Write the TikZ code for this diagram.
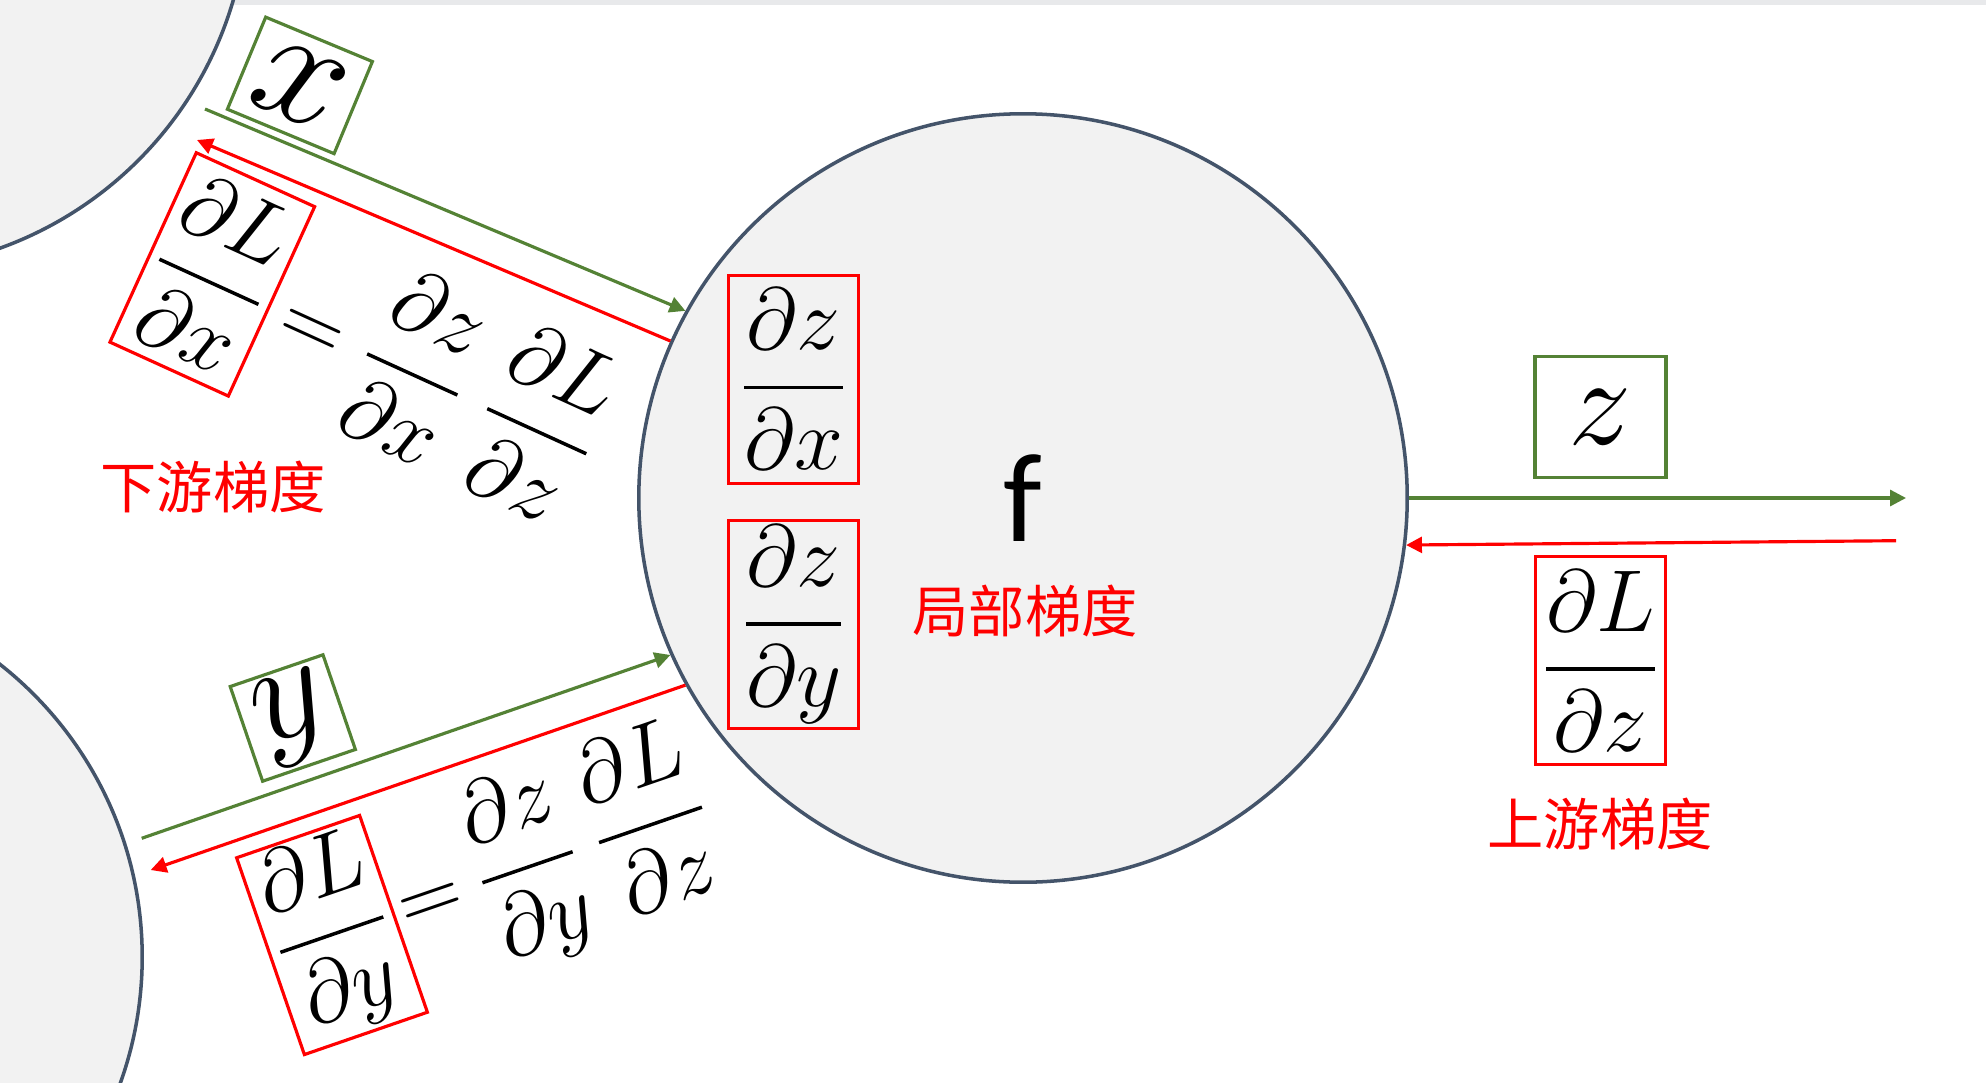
\RequirePackage{fix-cm}
\documentclass[tikz,border=0pt]{standalone}
\usepackage{amsmath}
\usepackage{fontspec}
\newfontfamily\cjk{Noto Sans CJK SC}
\newfontfamily\calib{Carlito}
\usetikzlibrary{arrows.meta, positioning, calc}

\definecolor{nodegray}{HTML}{F2F2F2}
\definecolor{nodeline}{HTML}{44546A}
\definecolor{fwdgreen}{HTML}{548235}
\definecolor{stripgray}{HTML}{E8E9EB}

\tikzset{
  opnode/.style={circle, draw=nodeline, fill=nodegray, line width=1pt},
  valbox/.style={draw=fwdgreen, line width=0.9pt, inner sep=0pt, font=\fontsize{36}{40}\selectfont},
  gradbox/.style={draw=red, line width=0.9pt, inner sep=0pt, minimum width=1.30cm, minimum height=2.08cm, font=\fontsize{25}{30}\selectfont},
  eqtext/.style={inner sep=0pt, font=\fontsize{25}{30}\selectfont},
  fwd/.style={-{Triangle[length=4.5pt,width=4.5pt]}, fwdgreen, line width=0.9pt},
  bwd/.style={-{Triangle[length=4.5pt,width=4.5pt]}, red, line width=0.9pt},
  gradlabel/.style={text=red, font=\cjk\fontsize{16}{18}\selectfont},
}

\begin{document}
\begin{tikzpicture}[x=0.01cm, y=-0.01cm]
\useasboundingbox (0,0) rectangle (1986,1082);
\clip (0,0) rectangle (1986,1082);
\fill[stripgray] (233,0) rectangle (1986,5);

% Source nodes and the operation f
\node[opnode, minimum size=7.5cm] (xsrc) at (-127,-105) {};
\node[opnode, minimum size=7.44cm] (ysrc) at (-230,957) {};
\node[opnode, minimum size=7.68cm, font=\calib\fontsize{36}{40}\selectfont] (f) at (1023,498) {f};

% Local gradients
\node[gradbox] (dzdx) at (793.7,379.2) {$\displaystyle\frac{\partial z}{\partial x}$};
\node[gradbox] (dzdy) at (793.7,624.5) {$\displaystyle\frac{\partial z}{\partial y}$};
\node[gradlabel] (local) at (1025,611) {局部梯度};

% Output z and upstream gradient
\node[valbox, minimum width=1.31cm, minimum height=1.21cm] (zval) at (1600.5,417) {$z$};
\node[gradbox] (dLdz) at (1600.5,660.7) {$\displaystyle\frac{\partial L}{\partial z}$};
\node[gradlabel] (upstream) at (1600,824) {上游梯度};

% Input x and its gradient
\node[valbox, rotate=-22.6, minimum width=1.155cm, minimum height=0.997cm, font=\fontsize{46}{50}\selectfont] (xval) at (299.9,85.4) {$x$};
\node[gradbox, rotate=-24.5] (dLdx) at (212.3,274.4) {$\displaystyle\frac{\partial L}{\partial x}$};
\node[eqtext, rotate=-24.5, anchor=west] (eqx) at (dLdx.east) {$\displaystyle{}\mkern-2mu=\frac{\partial z}{\partial x}\mkern5mu\frac{\partial L}{\partial z}$};
\node[gradlabel] (downstream) at (213,487) {下游梯度};

% Input y and its gradient
\node[valbox, rotate=18.9, minimum width=0.98cm, minimum height=1.0cm, font=\fontsize{41}{45}\selectfont] (yval) at (292.8,718) {$y$};
\node[gradbox, rotate=19] (dLdy) at (332,935) {$\displaystyle\frac{\partial L}{\partial y}$};
\node[eqtext, rotate=19, anchor=west] (eqy) at (dLdy.east) {$\displaystyle{}\mkern-4mu=\mkern-1mu\frac{\partial z}{\partial y}\mkern4mu\frac{\partial L}{\partial z}$};

% Forward and backward arrows
\coordinate (xtail) at (205,109);
\coordinate (xhead) at (197,140);
\coordinate (ytail) at (141.7,838.3);
\coordinate (yhead) at (150.7,870);
\coordinate (zhead) at (1906,498);
\coordinate (ztail) at (1896,540.7);
\draw[fwd] (xtail) -- (f.151.4);
\draw[bwd] (f.156.5) -- (xhead);
\draw[fwd] (ytail) -- (f.204.7);
\draw[bwd] (f.209.1) -- (yhead);
\draw[fwd] (f.east) -- (zhead);
\draw[bwd] (ztail) -- (f.353.7);
\end{tikzpicture}
\end{document}
